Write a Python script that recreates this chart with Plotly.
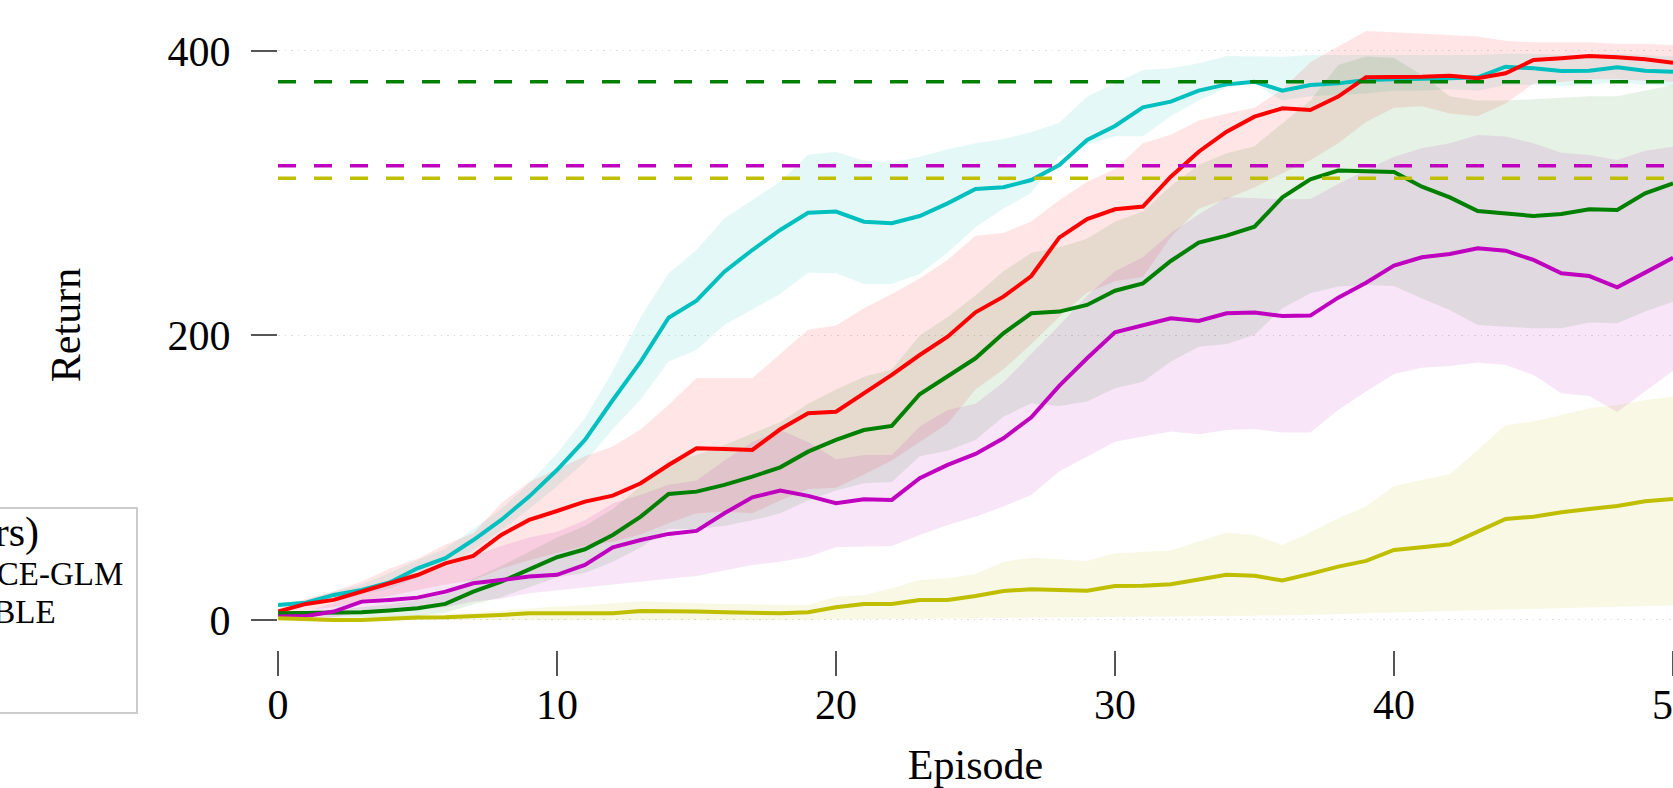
import plotly.graph_objects as go

# ---------------- data ----------------
episodes = list(range(51))

cyan_mean = [10.6, 12.2, 17.6, 21.1, 26.3, 36.3, 43.4, 56.2, 70.3, 86.7, 105.4, 126.5, 154.6, 181.6, 212.4,
             224.4, 244.8, 260.0, 274.1, 286.2, 287.0, 279.9, 278.8, 283.9, 292.8, 302.9, 304.1, 309.2, 319.7,
             337.3, 347.2, 360.3, 364.3, 372.0, 376.4, 378.3, 372.0, 376.0, 377.1, 379.5, 380.0, 380.2, 380.7,
             381.4, 388.8, 387.7, 385.8, 386.0, 388.4, 386.0, 385.2]
cyan_lo = [9, 11, 15, 18, 22, 30, 37, 49, 63, 78, 94, 111, 134, 155, 181.5, 189.7, 207.3, 218.3, 229.1, 244.1,
           243.6, 236.1, 236.1, 243.2, 258, 276, 289, 300, 326, 334, 340, 340, 354, 365, 374, 377, 365, 368, 369,
           370, 372, 372, 373, 372, 376, 376, 375, 376, 378, 376, 375]
cyan_hi = [12, 14, 20, 25, 33, 42, 50, 64, 78, 96, 117, 142, 175, 213, 243.6, 260, 282.3, 295.2, 308, 327.2,
           329.1, 322.8, 321.4, 325.6, 330.8, 335, 338, 343, 349.5, 367.8, 377.1, 386.5, 387.7, 391.2, 396.3,
           396.3, 395.9, 397, 397, 397, 397, 397, 397, 397, 398, 398, 397, 397, 398, 397, 396]

red_mean = [5.9, 11.3, 14.1, 19.9, 26.3, 31.6, 39.8, 45.0, 59.8, 70.3, 76.6, 83.2, 87.4, 96.1, 108.9, 120.7,
            120.2, 119.5, 134.0, 145.3, 146.4, 159.3, 172.2, 186.2, 199.1, 216.2, 227.2, 241.7, 268.7, 281.8,
            288.6, 290.5, 311.5, 329.1, 343.2, 353.7, 359.6, 358.4, 367.8, 381.4, 381.4, 381.8, 382.5, 380.7,
            384.2, 393.5, 394.8, 396.3, 395.4, 394.0, 391.6]
red_lo = [3, 7, 9, 13, 17, 21, 25, 28, 36, 42, 47, 52, 55, 60, 68, 75, 76, 75, 84, 92, 93, 102, 112, 125, 138,
          162, 176, 194, 213, 230, 238, 241, 269, 289, 296, 304, 314, 323, 335, 350, 360, 361, 356, 354, 363,
          377, 378, 380, 380, 379, 378]
red_hi = [8, 15, 20, 27, 36, 43, 53, 61, 82, 97, 106, 115, 122, 134, 151, 170, 170, 170, 187, 204, 207, 219,
          229, 240, 253, 270, 272, 280, 295, 308, 317, 335, 341, 351, 356, 360, 373, 392, 403, 414, 413, 412,
          411, 410, 407, 406, 406, 406, 405, 405, 404]

green_mean = [4.7, 4.7, 4.7, 5.4, 6.6, 8.2, 11.3, 19.9, 26.9, 35.2, 44.1, 49.7, 59.7, 72.6, 88.6, 90.2, 94.9,
              100.7, 107.3, 118.3, 126.5, 133.5, 136.4, 158.6, 171.0, 183.9, 201.5, 215.5, 216.7, 221.4, 231.4,
              236.6, 252.3, 265.2, 270.1, 276.4, 297.0, 309.7, 315.8, 315.1, 314.8, 304.5, 297.0, 287.4, 285.3,
              283.9, 285.3, 288.6, 288.1, 299.8, 306.8]
green_lo = [3, 3, 2, 2, 2, 3, 5, 11, 16, 23, 30, 33, 41, 51, 64, 64, 66, 70, 75, 84, 91, 96, 97, 115, 119,
            126.5, 142.9, 152.3, 150.4, 153.5, 162.8, 167.5, 181.6, 192.1, 194, 200.5, 219, 229.6, 234.3, 235.4,
            234.7, 226, 217.9, 207.3, 206.1, 205, 205, 209, 208.5, 216.7, 223.7]
green_hi = [6, 6, 7, 9, 11, 14, 18, 29, 38, 48, 58, 66, 78, 94, 112, 116, 123, 131, 139, 152, 162, 171, 176,
            200, 213, 228, 245, 258, 262, 268, 280, 287, 305, 320, 328, 333, 349, 365, 390, 396, 395, 383, 368,
            365, 365, 366, 367, 368, 368, 372, 376]

magenta_mean = [2.4, 2.8, 5.9, 12.9, 14.1, 15.7, 19.9, 25.8, 28.1, 30.5, 31.7, 38.7, 51.1, 56.2, 60.5, 62.6,
                75.0, 86.2, 90.9, 87.2, 82.0, 84.8, 84.4, 99.6, 109.0, 116.7, 127.7, 142.4, 164.5, 183.9, 202.2,
                206.8, 212.0, 210.1, 215.5, 216.0, 213.6, 213.9, 226.5, 237.0, 249.0, 254.9, 257.2, 261.2,
                259.5, 253.0, 243.6, 241.7, 233.8, 244.1, 254.6]
magenta_lo = [1, 1, 2, 5, 6, 7, 9, 12.9, 15, 18.8, 21, 23, 25, 26.9, 29, 30.9, 35, 38.7, 41, 44.5, 51.1, 51.6,
              52, 59.8, 66.8, 72.6, 79.7, 87.9, 104.3, 114.8, 125.3, 128.9, 132.4, 130.5, 133.5, 134.2, 131.7,
              131.7, 147.6, 160.5, 172.9, 177.3, 178.5, 180.9, 179.2, 172.2, 159.3, 157.4, 146.1, 160.5, 175.1]
magenta_hi = [4, 6, 12, 22, 27, 31, 37, 45, 52, 58, 62, 70, 82, 88, 95, 98, 112, 125, 133.5, 125, 112.9, 116,
              116, 135.9, 147.6, 152, 167, 187, 207, 228, 245, 255, 272, 285, 297, 296.3, 295.6, 295.8, 306.4,
              316.2, 325.6, 331.5, 335, 340.8, 339.7, 335, 328.4, 326.8, 323.3, 329.8, 332.6]

yellow_mean = [1.2, 0.5, 0.0, 0.0, 1.2, 1.7, 1.9, 2.4, 3.5, 4.7, 4.7, 4.7, 4.7, 6.3, 6.3, 5.9, 5.4, 4.7, 4.7,
               5.4, 8.9, 11.3, 11.3, 14.1, 14.1, 16.9, 20.4, 21.6, 21.1, 20.6, 23.9, 24.1, 25.1, 28.1, 31.7,
               31.0, 27.7, 32.4, 37.5, 41.5, 49.2, 51.1, 53.2, 62.1, 71.0, 72.6, 75.7, 78.0, 80.1, 83.4, 85.0]
yellow_lo = [0, 0, -0.5, -0.5, 0, 0, 0, 0, 0, 0, 0, 0, 0, 0, 0, 0, 0, 0, 0, 0, 0.5, 0.6, 0.7, 0.8, 0.9, 1.0,
             1.2, 1.4, 1.6, 1.8, 2.0, 2.2, 2.4, 2.6, 2.8, 3.0, 3.2, 3.5, 3.9, 4.4, 5.0, 5.5, 6.0, 6.6, 7.2, 7.8,
             8.3, 8.8, 9.3, 9.8, 10.2]
yellow_hi = [2, 2, 1.5, 1.5, 3, 3.5, 4, 5, 6.5, 8.2, 9.5, 10.6, 11.8, 12.9, 12.5, 11.7, 11.3, 11, 10.8, 10.6,
             16.4, 17.6, 22.3, 28.1, 29.3, 32.3, 41, 43.8, 42.7, 41.5, 46.9, 47.6, 48.8, 55.1, 61.4, 59.8, 52.7,
             61.6, 71.5, 79.7, 94.2, 98.4, 102.4, 119.5, 137, 139.4, 144.1, 148.8, 151.1, 154.6, 157]

# final returns reported elsewhere (dashed reference levels)
ref_levels = [378.3, 319.3, 310.4]
ref_colors = ["g", "m", "y"]

y_ticks = [0, 200, 400]
x_ticks = [0, 10, 20, 30, 40, 50]

legend_rows = ["Reported results (other papers)",
               "V<span style='font-size:33px'>ARIANCE-GLM</span>",
               "E<span style='font-size:33px'>NSEMBLE</span>",
               "DQN",
               "PG"]

# ---------------- style ----------------
RGB = {"c": (0, 191, 191), "r": (255, 0, 0), "g": (0, 128, 0), "m": (191, 0, 191), "y": (191, 191, 0)}


def col(key, a=1.0):
    r, g, b = RGB[key]
    return f"rgba({r},{g},{b},{a})"


FONT = "Liberation Serif"
FS = 42

series = [
    ("c", cyan_mean, cyan_lo, cyan_hi),
    ("r", red_mean, red_lo, red_hi),
    ("g", green_mean, green_lo, green_hi),
    ("m", magenta_mean, magenta_lo, magenta_hi),
    ("y", yellow_mean, yellow_lo, yellow_hi),
]

fig = go.Figure()

# shaded spread bands
for key, mean, lo, hi in series:
    fig.add_trace(go.Scatter(
        x=episodes + episodes[::-1], y=hi + lo[::-1],
        fill="toself", fillcolor=col(key, 0.1), line=dict(width=0),
        mode="lines", hoverinfo="skip", showlegend=False))

# mean curves
for key, mean, lo, hi in series:
    fig.add_trace(go.Scatter(
        x=episodes, y=mean, mode="lines",
        line=dict(color=col(key), width=4), showlegend=False))

# dashed reference levels
for level, key in zip(ref_levels, ref_colors):
    fig.add_trace(go.Scatter(
        x=[episodes[0], episodes[-1]], y=[level, level], mode="lines",
        line=dict(color=col(key), width=3.5, dash="18px,18px"), showlegend=False))

# ---------------- layout ----------------
L, R, T, B = 278, 0, 0, 138
W, H = 1673, 788
PW, PH = W - L - R, H - T - B


def px_x(px):
    return (px - L) / PW


def px_y(py):
    return (H - B - py) / PH


# legend box drawn by hand (partly outside the page at left)
fig.add_shape(type="rect", xref="paper", yref="paper",
              x0=px_x(-60), x1=px_x(137), y0=px_y(713), y1=px_y(508),
              line=dict(color="#cccccc", width=2), fillcolor="white", layer="above")

row_right = [41, 125, 58, 0, 0]
row_base = [546, 585, 623, 661, 699]
for text, xr, yb in zip(legend_rows, row_right, row_base):
    fig.add_annotation(xref="paper", yref="paper", x=px_x(xr), y=px_y(yb - 14),
                       xanchor="right", yanchor="middle", showarrow=False, text=text,
                       font=dict(family=FONT, size=FS, color="black"))

fig.update_layout(
    width=W, height=H,
    margin=dict(l=L, r=R, t=T, b=B, autoexpand=False),
    paper_bgcolor="white", plot_bgcolor="white",
    showlegend=False,
    font=dict(family=FONT, size=FS, color="black"),
)

fig.update_xaxes(
    range=[0, 50], tickvals=x_ticks, ticks="outside", ticklen=25, tickwidth=1.5,
    tickcolor="#555555", showgrid=False, zeroline=False, showline=False,
    tickfont=dict(family=FONT, size=FS, color="black"), ticklabelstandoff=-7,
    ticklabeloverflow="allow",
    title=dict(text="Episode", font=dict(family=FONT, size=FS, color="black"), standoff=35),
)
fig.update_yaxes(
    range=[-21.1, 435.7], tickvals=y_ticks, ticks="outside", ticklen=26, tickwidth=1.5,
    tickcolor="#555555", showgrid=True, gridcolor="#dcdcdc", gridwidth=1, griddash="1.5px,5px",
    zeroline=False, showline=False,
    tickfont=dict(family=FONT, size=FS, color="black"), ticklabelstandoff=12,
    title=dict(text="Return", font=dict(family=FONT, size=FS, color="black"), standoff=73),
)

fig.write_html("out.html")
